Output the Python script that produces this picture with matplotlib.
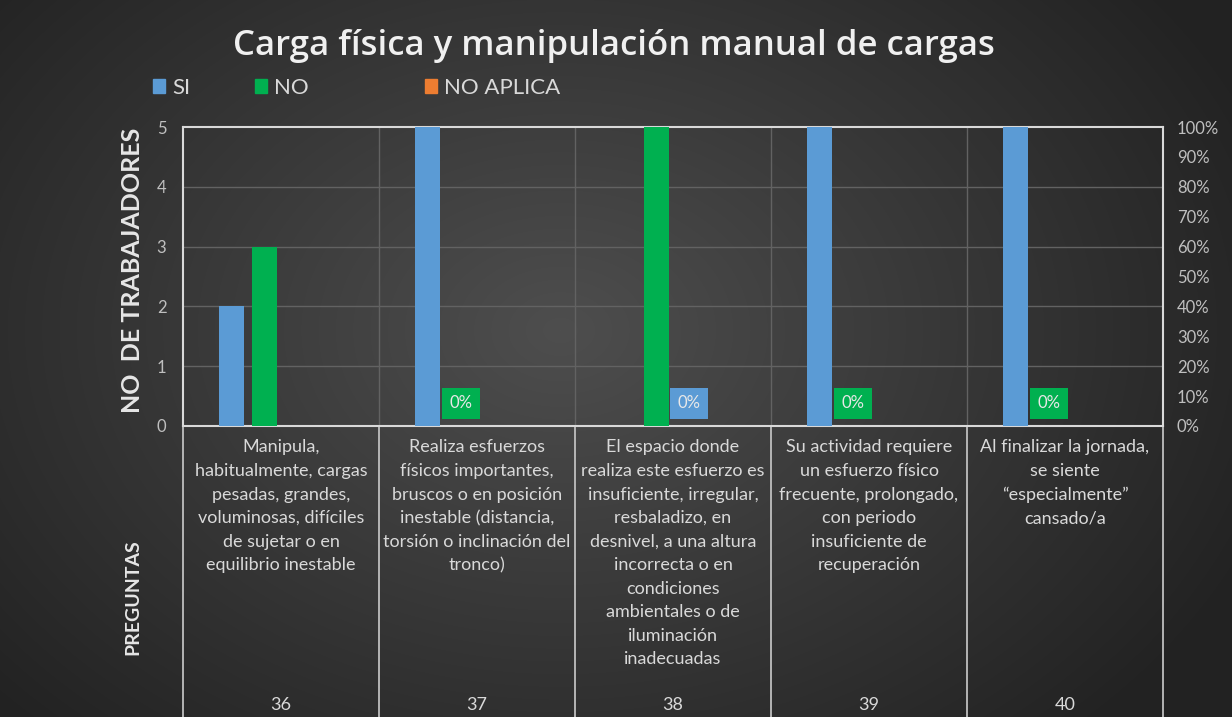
import numpy as np
import matplotlib
matplotlib.use("Agg")
import matplotlib.pyplot as plt
import matplotlib.transforms as mtransforms
from matplotlib.patches import Patch

# ---------------- data ----------------
categories = ["36", "37", "38", "39", "40"]
questions = [
    "Manipula,\nhabitualmente, cargas\npesadas, grandes,\nvoluminosas, difíciles\nde sujetar o en\nequilibrio inestable",
    "Realiza esfuerzos\nfísicos importantes,\nbruscos o en posición\ninestable (distancia,\ntorsión o inclinación del\ntronco)",
    "El espacio donde\nrealiza este esfuerzo es\ninsuficiente, irregular,\nresbaladizo, en\ndesnivel, a una altura\nincorrecta o en\ncondiciones\nambientales o de\niluminación\ninadecuadas",
    "Su actividad requiere\nun esfuerzo físico\nfrecuente, prolongado,\ncon periodo\ninsuficiente de\nrecuperación",
    "Al finalizar la jornada,\nse siente\n“especialmente”\ncansado/a",
]
series_names = ["SI", "NO", "NO APLICA"]
si = [2, 5, 0, 5, 5]
no = [3, 0, 5, 0, 0]
no_aplica = [0, 0, 0, 0, 0]
# "0%" data labels: (category index, series index for colour, slot position)
zero_labels = [(1, 1, 1), (2, 0, 2), (3, 1, 1), (4, 1, 1)]
left_ticks = [0, 1, 2, 3, 4, 5]
right_ticks = [0, 10, 20, 30, 40, 50, 60, 70, 80, 90, 100]

colors = ["#5b9bd5", "#00b050", "#ed7d31"]
FONT = "Lato"
TXT = "#d9d9d9"

W, H = 1232, 717
fig = plt.figure(figsize=(W / 100, H / 100), dpi=100)

# background radial gradient
bg = fig.add_axes([0, 0, 1, 1], zorder=-10)
yy, xx = np.mgrid[0:H, 0:W]
cx, cy = 560, 330
d = np.sqrt(((xx - cx) / 760) ** 2 + ((yy - cy) / 560) ** 2)
d = np.clip(d, 0, 1)
c0 = np.array([0x4e, 0x4e, 0x4e]) / 255
c1 = np.array([0x22, 0x22, 0x22]) / 255
img = c0[None, None, :] * (1 - d[..., None]) + c1[None, None, :] * d[..., None]
bg.imshow(img, aspect="auto", extent=[0, 1, 0, 1], origin="upper")
bg.axis("off")

L, R = 183 / W, 1163 / W
B, T = 1 - 426 / H, 1 - 127 / H
ax = fig.add_axes([L, B, R - L, T - B])
ax.patch.set_alpha(0)

x = np.arange(len(categories))
slot = 0.168
bw = 0.13
offsets = [-1.5 * slot, -0.5 * slot, 0.5 * slot]
for vals, off, col, name in zip([si, no, no_aplica], offsets, colors, series_names):
    ax.bar(x + off, vals, width=bw, color=col, label=name, zorder=3)

for ci, si_idx, pos in zero_labels:
    xo = ci - 1.5 * slot + pos * slot
    ax.text(xo, 0.38, "0%", ha="center", va="center", color="#e8e8e8",
            fontsize=12, family=FONT, zorder=5,
            bbox=dict(boxstyle="square,pad=0.45", fc=colors[si_idx], ec="none"))

ax.set_xlim(-0.5, len(categories) - 0.5)
ax.set_ylim(0, 5)
ax.set_yticks(left_ticks)
ax.set_yticklabels([str(t) for t in left_ticks], color="#bfbfbf", fontsize=12, family=FONT)
ax.tick_params(axis="y", length=0, pad=12)
ax.set_xticks([])
for yv in left_ticks[1:-1]:
    ax.axhline(yv, color="#626262", lw=1, zorder=1)
for b in np.arange(0.5, len(categories) - 0.5, 1):
    ax.axvline(b, color="#626262", lw=1, zorder=1)
for s in ax.spines.values():
    s.set_color("#d9d9d9")
    s.set_linewidth(1.5)

ax2 = ax.twinx()
ax2.set_ylim(0, 100)
ax2.set_yticks(right_ticks)
ax2.set_yticklabels([f"{t}%" for t in right_ticks], color="#bfbfbf", fontsize=12, family=FONT)
ax2.tick_params(axis="y", length=0, pad=10)
for s in ax2.spines.values():
    s.set_visible(False)

# table beneath
trans = mtransforms.blended_transform_factory(ax.transData, ax.transAxes)
bottom_frac = -426 / (426 - 127)
for b in np.arange(-0.5, len(categories), 1):
    ax.plot([b, b], [0, bottom_frac], transform=trans, color="#bfbfbf", lw=1.3, clip_on=False)
for i, (q, c) in enumerate(zip(questions, categories)):
    ax.text(i, -0.045, q, transform=trans, ha="center", va="top", color=TXT,
            fontsize=13, family=FONT, linespacing=1.58)
    ax.text(i, -(705 - 426) / 299, c, transform=trans, ha="center", va="center",
            color=TXT, fontsize=13, family=FONT)

fig.text(133 / W, 1 - 270 / H, "NO  DE TRABAJADORES", rotation=90, ha="center", va="center",
         color="#e6e6e6", fontsize=18, fontweight="bold", family=FONT)
fig.text(133 / W, 1 - 597 / H, "PREGUNTAS", rotation=90, ha="center", va="center",
         color="#e6e6e6", fontsize=14, fontweight="bold", family=FONT)

fig.text(614 / W, 1 - 46 / H, "Carga física y manipulación manual de cargas", ha="center",
         va="center", color="#f0f0f0", fontsize=25, fontweight="semibold", family="Open Sans")

legend_x = [153, 255, 425]
for name, col, lx in zip(series_names, colors, legend_x):
    lg = fig.legend([Patch(color=col)], [name], loc="center left",
                    bbox_to_anchor=(lx / W, 1 - 88 / H), frameon=False,
                    handlelength=0.55, handleheight=0.55, handletextpad=0.3,
                    borderpad=0, borderaxespad=0,
                    prop={"family": FONT, "size": 16})
    for t in lg.get_texts():
        t.set_color(TXT)

fig.savefig("out.png", dpi=100)
